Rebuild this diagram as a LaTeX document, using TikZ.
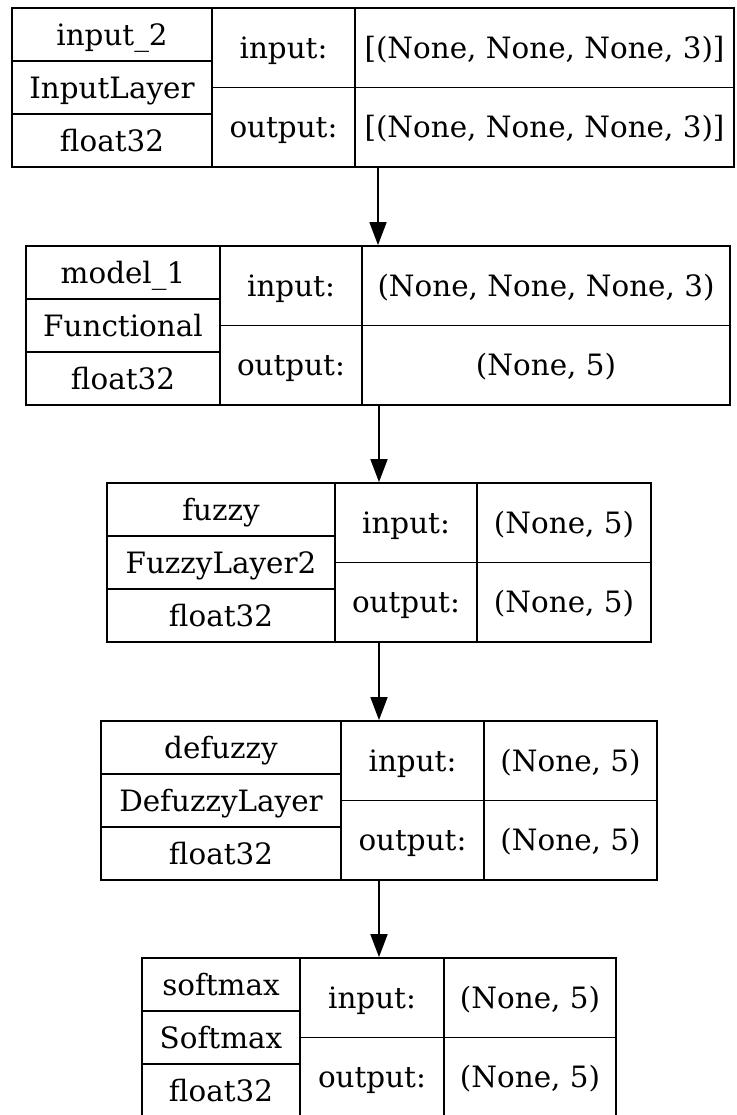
\documentclass[tikz,border=0pt]{standalone}
\usepackage{fontspec}
\setmainfont{DejaVu Serif}
\usetikzlibrary{arrows.meta,fit}

% one Keras layer record: name | class | dtype  ||  input:/output:  ||  shapes
% #1 id, #2..#5 column edges, #6 top edge, #7 layer name, #8 class, #9 dtype
\newcommand\recordlayer[9]{%
  \coordinate (#1-nw) at (#2,#6);
  \coordinate (#1-se) at (#5,#6+159);
  \node[layerbox, fit=(#1-nw)(#1-se)] (#1) {};
  \draw[cellrule] (#3,#6) -- (#3,#6+159);
  \draw[cellrule] (#4,#6) -- (#4,#6+159);
  \draw[cellrule] (#2,#6+53) -- (#3,#6+53);
  \draw[cellrule] (#2,#6+106) -- (#3,#6+106);
  \draw[cellrule] (#3,#6+79.5) -- (#5,#6+79.5);
  \node[lbl] (#1-name)  at ({(#2+#3)/2},#6+26.5)  {#7};
  \node[lbl] (#1-class) at ({(#2+#3)/2},#6+79.5)  {#8};
  \node[lbl] (#1-dtype) at ({(#2+#3)/2},#6+132.5) {#9};
  \node[lbl] (#1-in)    at ({(#3+#4)/2},#6+39.75)  {input:};
  \node[lbl] (#1-out)   at ({(#3+#4)/2},#6+119.25) {output:};
  \coordinate (#1-shp) at ({(#4+#5)/2},#6);
}
% input and output shapes in the right-hand column
\newcommand\shapecells[3]{%
  \node[lbl] (#1-inshape)  at (#1-shp |- #1-in)  {#2};
  \node[lbl] (#1-outshape) at (#1-shp |- #1-out) {#3};
}

\tikzset{
  layerbox/.style={draw=black, line width=0.9pt, inner sep=0pt},
  cellrule/.style={draw=black, line width=0.9pt},
  lbl/.style={inner sep=0pt, text height=10.7pt, text depth=0pt,
              font=\fontsize{14.7}{17}\selectfont},
  flow/.style={draw=black, line width=0.9pt,
               -{Triangle[length=11.5pt,width=8.5pt]}},
}

\begin{document}
\begin{tikzpicture}[x=0.5pt,y=-0.5pt]
\useasboundingbox[fill=white] (0,0) rectangle (736,1115);

\recordlayer{L1}{12}{212}{355}{734}{8}{input\_2}{InputLayer}{float32}
\shapecells{L1}{[(None, None, None, 3)]}{[(None, None, None, 3)]}

\recordlayer{L2}{26}{220}{362}{730}{246}{model\_1}{Functional}{float32}
\shapecells{L2}{(None, None, None, 3)}{(None, 5)}

\recordlayer{L3}{107}{335}{477}{651}{483}{fuzzy}{FuzzyLayer2}{float32}
\shapecells{L3}{(None, 5)}{(None, 5)}

\recordlayer{L4}{101}{341}{484}{657}{721}{defuzzy}{DefuzzyLayer}{float32}
\shapecells{L4}{(None, 5)}{(None, 5)}

\recordlayer{L5}{142}{300}{444}{616}{958}{softmax}{Softmax}{float32}
\shapecells{L5}{(None, 5)}{(None, 5)}

\draw[flow] (L1.south -| L2.north) -- (L2.north);
\draw[flow] (L2.south -| L3.north) -- (L3.north);
\draw[flow] (L3.south -| L4.north) -- (L4.north);
\draw[flow] (L4.south -| L5.north) -- (L5.north);
\end{tikzpicture}
\end{document}
